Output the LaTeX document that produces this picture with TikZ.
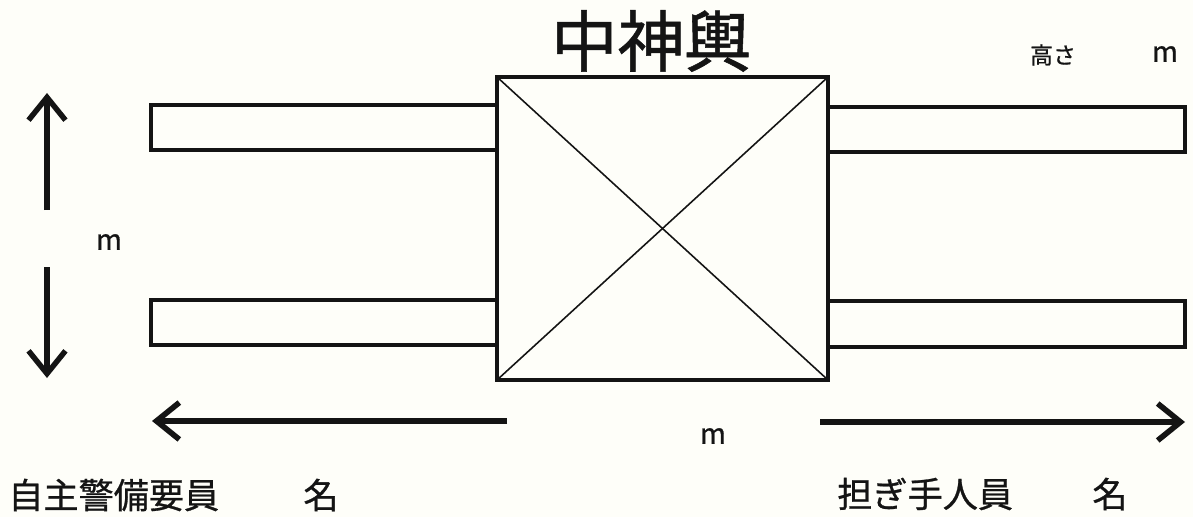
\documentclass[tikz,border=0pt]{standalone}
\usepackage{fontspec}
\setmainfont{Noto Sans CJK JP}[FakeBold=0.8]
\usetikzlibrary{arrows.meta}
\definecolor{paper}{RGB}{254,254,249}
\definecolor{ink}{RGB}{20,20,20}
\tikzset{
  bar/.style={draw=ink, line width=2pt, fill=paper, minimum height=0.9cm, inner sep=0pt, outer sep=0pt},
  box/.style={draw=ink, line width=2.3pt, fill=paper, inner sep=0pt, outer sep=0pt, minimum width=6.62cm, minimum height=6.06cm},
  diag/.style={draw=ink, line width=0.9pt},
  bigarrow/.style={draw=ink, line width=3.2pt, -{Straight Barb[length=13pt, width=21pt]}},
  label/.style={inner sep=0pt, text=ink},
  unit/.style={label, font=\fontsize{16pt}{16pt}\selectfont},
  bottomtext/.style={label, font=\fontsize{20pt}{20pt}\selectfont}
}
\begin{document}
\begin{tikzpicture}[x=0.02cm, y=-0.02cm]
  \fill[paper] (0,0) rectangle (1193,517);
  \useasboundingbox (0,0) rectangle (1193,517);

  % poles
  \node[bar, minimum width=6.92cm] (lt) at (324,127.5) {};
  \node[bar, minimum width=6.92cm] (lb) at (324,322.5) {};
  \node[bar, minimum width=7.14cm] (rt) at (1006.5,129.5) {};
  \node[bar, minimum width=7.14cm, minimum height=0.92cm] (rb) at (1006.5,324) {};

  % body
  \node[box] (sq) at (662.5,228.5) {};
  \draw[diag] (sq.north west) -- (sq.south east);
  \draw[diag] (sq.north east) -- (sq.south west);

  % title
  \node[label, font=\fontsize{38pt}{38pt}\selectfont] (title) at (651,41) {中神輿};
  \node[label, font=\fontsize{13pt}{13pt}\selectfont] (height) at (1053,55) {高さ};
  \node[unit] (mh) at (1165,54) {m};

  % vertical dimension
  \coordinate (vu1) at (47,210);
  \coordinate (vu2) at (47,93);
  \coordinate (vd1) at (47,267);
  \coordinate (vd2) at (47,378);
  \draw[bigarrow, line width=3.1pt] (vu1) -- (vu2);
  \draw[bigarrow, line width=3.1pt] (vd1) -- (vd2);
  \node[unit] (mv) at (109,242) {m};

  % horizontal dimension
  \coordinate (hl1) at (507,421);
  \coordinate (hl2) at (152,421);
  \coordinate (hr1) at (820,422);
  \coordinate (hr2) at (1185,422);
  \draw[bigarrow] (hl1) -- (hl2);
  \draw[bigarrow] (hr1) -- (hr2);
  \node[unit] (mw) at (713,436) {m};

  % bottom texts
  \node[bottomtext, anchor=west] (guard) at (8,495) {自主警備要員};
  \node[bottomtext] (guardn) at (321,495) {名};
  \node[bottomtext, anchor=west] (bearer) at (837,494) {担ぎ手人員};
  \node[bottomtext] (bearern) at (1110,494) {名};
\end{tikzpicture}
\end{document}
